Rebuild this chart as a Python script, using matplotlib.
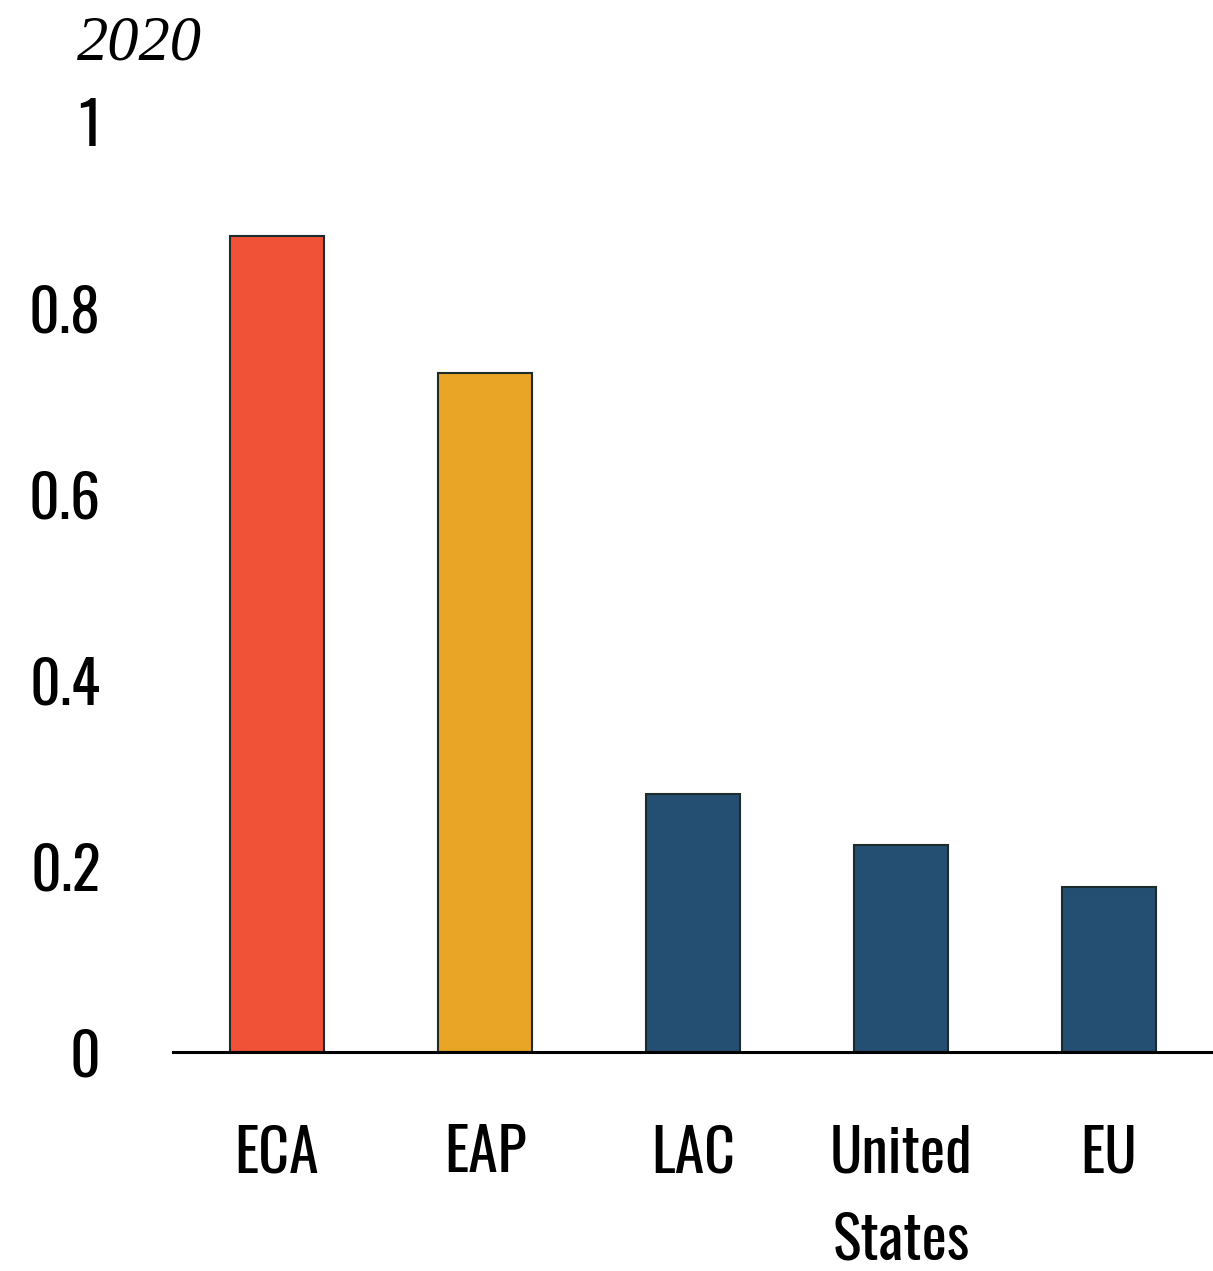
import matplotlib.pyplot as plt

regions = ["ECA", "EAP", "LAC", "United\nStates", "EU"]
values = [0.877, 0.730, 0.277, 0.223, 0.177]
colors = ["#EF5236", "#E9A526", "#244E72", "#244E72", "#244E72"]
yticks = [0, 0.2, 0.4, 0.6, 0.8, 1]
ytick_labels = ["0", "0.2", "0.4", "0.6", "0.8", "1"]

# condensed face for the axis labels, with fallbacks
label_font = ["Oswald", "Roboto Condensed", "Liberation Sans Narrow", "DejaVu Sans"]

fig = plt.figure(figsize=(12.13, 12.71), dpi=100)
ax = fig.add_axes([0.1426, 0.1723, 0.8574, 0.7317])

x = range(len(regions))
ax.bar(x, values, width=0.45, color=colors, edgecolor="#1c2b2b", linewidth=1.5, zorder=2)

ax.set_xlim(-0.5, 4.5)
ax.set_ylim(0, 1)
ax.set_yticks(yticks)
ax.set_yticklabels(ytick_labels, family=label_font, fontsize=43)
ax.set_xticks(list(x))
ax.set_xticklabels(regions, family=label_font, fontsize=43, linespacing=1.58, va="top")
ax.tick_params(axis="both", length=0)
ax.tick_params(axis="y", pad=52)
ax.tick_params(axis="x", pad=52)

for side in ["top", "right", "left"]:
    ax.spines[side].set_visible(False)
ax.spines["bottom"].set_linewidth(2.2)
ax.spines["bottom"].set_color("black")
ax.spines["bottom"].set_zorder(3)

fig.text(0.0635, 0.988, "2020", family=["Liberation Serif", "Tinos", "DejaVu Serif"], style="italic",
         fontsize=45, ha="left", va="top")

fig.savefig("out.png", dpi=100)
